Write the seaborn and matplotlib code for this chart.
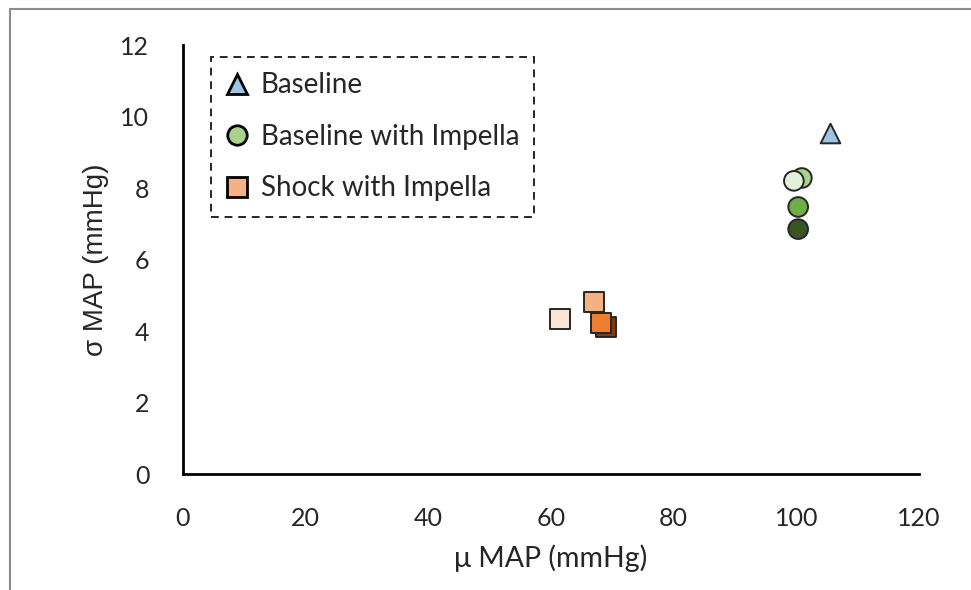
import matplotlib
matplotlib.use("Agg")
import matplotlib.pyplot as plt
from matplotlib.lines import Line2D
import pandas as pd
import seaborn as sns

# Mean and standard deviation of MAP per condition (mmHg)
baseline_mu = [105.5]
baseline_sigma = [9.54]
baseline_colors = ["#9DC3E6"]

impella_mu = [100.9, 99.6, 100.3, 100.3]
impella_sigma = [8.28, 8.20, 7.47, 6.85]
impella_colors = ["#A9D18E", "#E2F0D9", "#70AD47", "#375623"]

shock_mu = [69.0, 67.0, 68.2, 61.5]
shock_sigma = [4.11, 4.81, 4.22, 4.34]
shock_colors = ["#843C0C", "#F4B183", "#ED7D31", "#FBE5D6"]

legend_labels = ["Baseline", "Baseline with Impella", "Shock with Impella"]
legend_colors = ["#9DC3E6", "#A9D18E", "#F4B183"]
legend_markers = ["^", "o", "s"]

x_ticks = [0, 20, 40, 60, 80, 100, 120]
y_ticks = [0, 2, 4, 6, 8, 10, 12]

sns.set_theme(style="white")
plt.rcParams["font.family"] = ["Lato", "DejaVu Sans"]

fig = plt.figure(figsize=(9.71, 5.9), dpi=100)
ax = fig.add_axes([0.1882, 0.1966, 0.7583, 0.7271])

groups = [
    (baseline_mu, baseline_sigma, baseline_colors, "^", 200),
    (impella_mu, impella_sigma, impella_colors, "o", 200),
    (shock_mu, shock_sigma, shock_colors, "s", 200),
]
for mu, sigma, colors, marker, size in groups:
    df = pd.DataFrame({"mu": mu, "sigma": sigma, "shade": [str(i) for i in range(len(mu))]})
    sns.scatterplot(
        data=df, x="mu", y="sigma", hue="shade",
        palette=dict(zip(df["shade"], colors)),
        marker=marker, s=size, edgecolor="#262626", linewidth=1.4,
        legend=False, ax=ax, zorder=3,
    )

ax.set_xlim(0, 120)
ax.set_ylim(0, 12)
ax.set_xticks(x_ticks)
ax.set_yticks(y_ticks)
ax.tick_params(axis="both", length=0, labelsize=18, colors="#262626")
ax.tick_params(axis="x", pad=24)
ax.tick_params(axis="y", pad=24)

for side in ["top", "right"]:
    ax.spines[side].set_visible(False)
for side in ["left", "bottom"]:
    ax.spines[side].set_color("black")
    ax.spines[side].set_linewidth(2.0)

ax.set_xlabel("μ MAP (mmHg)", fontsize=20.5, color="#262626", labelpad=10)
ax.set_ylabel("σ MAP (mmHg)", fontsize=20, color="#262626", labelpad=8,
              family=["Liberation Sans", "DejaVu Sans"])

handles = [
    Line2D([], [], linestyle="none", marker=m, markersize=14,
           markerfacecolor=c, markeredgecolor="black", markeredgewidth=2.0)
    for m, c in zip(legend_markers, legend_colors)
]
leg = ax.legend(handles, legend_labels, loc="upper left",
                bbox_to_anchor=(0.038, 0.972), borderaxespad=0,
                fontsize=20, frameon=True, fancybox=False,
                handlelength=0.8, handletextpad=0.45, labelspacing=0.92,
                borderpad=0.55)
frame = leg.get_frame()
frame.set_edgecolor("#262626")
frame.set_linestyle((0, (4, 3)))
frame.set_linewidth(1.4)
frame.set_facecolor("white")
frame.set_alpha(1)
for t in leg.get_texts():
    t.set_color("#262626")

# Outer chart border (top and left edges)
fig.add_artist(Line2D([10 / 971, 1.0], [1 - 9 / 590, 1 - 9 / 590],
                      transform=fig.transFigure, color="#8c8c8c", linewidth=1.5))
fig.add_artist(Line2D([10 / 971, 10 / 971], [0.0, 1 - 9 / 590],
                      transform=fig.transFigure, color="#8c8c8c", linewidth=1.5))

fig.savefig("out.png", dpi=100)
